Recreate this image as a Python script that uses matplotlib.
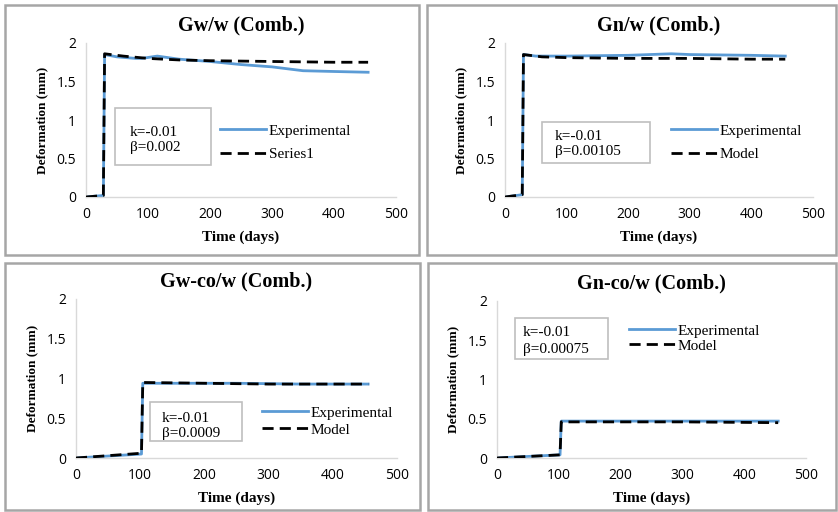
import matplotlib.pyplot as plt
from matplotlib.patches import Rectangle

W, H = 838, 512

# ---- data ----
gww_exp_t = [0, 28, 30, 50, 80, 90, 115, 150, 200, 250, 300, 350, 400, 455]
gww_exp_d = [0, 0.02, 1.85, 1.82, 1.80, 1.80, 1.83, 1.79, 1.76, 1.72, 1.69, 1.64, 1.63, 1.62]
gww_mod_t = [0, 28, 30, 60, 100, 150, 200, 300, 400, 455]
gww_mod_d = [0, 0.02, 1.86, 1.83, 1.80, 1.78, 1.77, 1.76, 1.75, 1.75]

gnw_exp_t = [0, 28, 30, 50, 100, 200, 270, 300, 400, 455]
gnw_exp_d = [0, 0.03, 1.85, 1.83, 1.83, 1.84, 1.86, 1.85, 1.84, 1.83]
gnw_mod_t = [0, 28, 30, 60, 100, 200, 300, 400, 455]
gnw_mod_d = [0, 0.03, 1.85, 1.82, 1.81, 1.80, 1.80, 1.79, 1.79]

gwco_exp_t = [0, 102, 104, 200, 250, 350, 455]
gwco_exp_d = [0, 0.05, 0.94, 0.94, 0.94, 0.93, 0.93]
gwco_mod_t = [0, 102, 104, 200, 300, 455]
gwco_mod_d = [0, 0.06, 0.95, 0.94, 0.93, 0.93]

gnco_exp_t = [0, 102, 104, 200, 300, 455]
gnco_exp_d = [0, 0.04, 0.47, 0.47, 0.47, 0.47]
gnco_mod_t = [0, 102, 104, 200, 300, 455]
gnco_mod_d = [0, 0.04, 0.46, 0.46, 0.46, 0.45]

titles = ["Gw/w (Comb.)", "Gn/w (Comb.)", "Gw-co/w (Comb.)", "Gn-co/w (Comb.)"]
k_text = ["k=-0.01", "k=-0.01", "k=-0.01", "k=-0.01"]
beta_text = ["\u03b2=0.002", "\u03b2=0.00105", "\u03b2=0.0009", "\u03b2=0.00075"]
model_names = ["Series1", "Model", "Model", "Model"]
x_ticks = [0, 100, 200, 300, 400, 500]
y_ticks = [0, 0.5, 1, 1.5, 2]
y_tick_labels = ["0", "0.5", "1", "1.5", "2"]

series = [
    (gww_exp_t, gww_exp_d, gww_mod_t, gww_mod_d),
    (gnw_exp_t, gnw_exp_d, gnw_mod_t, gnw_mod_d),
    (gwco_exp_t, gwco_exp_d, gwco_mod_t, gwco_mod_d),
    (gnco_exp_t, gnco_exp_d, gnco_mod_t, gnco_mod_d),
]

# pixel layout: panel frame, axes box (x0, x1, ytop, ybottom), note box, legend anchor, row gap
frames = [(5, 5, 419, 255), (427, 5, 836, 255), (5, 263, 420, 510), (428, 263, 836, 510)]
axes_px = [(86, 396, 43, 197), (505, 813, 43, 197), (76, 397, 299, 458), (497, 806, 301, 458)]
note_px = [(115, 108, 211, 165), (542, 122, 650, 163), (150, 402, 242, 441), (515, 318, 608, 359)]
note_txt_px = [(130, 133, 148), (555, 137, 152), (162, 418, 433), (523, 332, 349)]
leg_px = [(220, 124), (671, 124), (262, 406), (629, 324)]
leg_space = [0.62, 0.62, 0.22, 0.08]

blue = "#5b9bd5"
serif = "Liberation Serif"
sans = "Open Sans"

fig = plt.figure(figsize=(W / 100, H / 100), dpi=100)


def fx(px):
    return px / W


def fy(py):
    return 1 - py / H


for i in range(4):
    # grey frame around each panel
    x0, y0, x1, y1 = frames[i]
    fig.add_artist(Rectangle((fx(x0), fy(y1)), fx(x1 - x0), (y1 - y0) / H,
                             transform=fig.transFigure, fill=False,
                             edgecolor="#a6a6a6", linewidth=1.8))

    ax0, ax1, at, ab = axes_px[i]
    ax = fig.add_axes([fx(ax0), fy(ab), fx(ax1 - ax0), (ab - at) / H])
    et, ed, mt, md = series[i]
    ax.plot(et, ed, color=blue, lw=2, label="Experimental", zorder=2)
    ax.plot(mt, md, color="black", lw=2, ls=(0, (4, 2.2)), label=model_names[i], zorder=3)

    ax.set_xlim(0, 500)
    ax.set_ylim(0, 2)
    ax.set_xticks(x_ticks)
    ax.set_yticks(y_ticks)
    ax.set_yticklabels(y_tick_labels)
    ax.tick_params(length=0, labelsize=10, pad=7)
    for lab in ax.get_xticklabels() + ax.get_yticklabels():
        lab.set_fontfamily(sans)
    for s in ["top", "right"]:
        ax.spines[s].set_visible(False)
    for s in ["left", "bottom"]:
        ax.spines[s].set_color("#d9d9d9")
        ax.spines[s].set_linewidth(1)

    ax.set_title(titles[i], fontfamily=serif, fontweight="bold", fontsize=14.5, pad=9)
    ax.set_xlabel("Time (days)", fontfamily=serif, fontweight="bold", fontsize=11, labelpad=6)
    ax.set_ylabel("Deformation (mm)", fontfamily=serif, fontweight="bold", fontsize=9.5, labelpad=6)

    # parameter box
    bx0, by0, bx1, by1 = note_px[i]
    fig.add_artist(Rectangle((fx(bx0), fy(by1)), fx(bx1 - bx0), (by1 - by0) / H,
                             transform=fig.transFigure, facecolor="white",
                             edgecolor="#bfbfbf", linewidth=1.2, zorder=5))
    tx, ty1, ty2 = note_txt_px[i]
    fig.text(fx(tx), fy(ty1), k_text[i], fontfamily=serif, fontsize=11, va="center", zorder=6)
    fig.text(fx(tx), fy(ty2), beta_text[i], fontfamily=serif, fontsize=11, va="center", zorder=6)

    lx, ly = leg_px[i]
    ax.legend(loc="upper left", bbox_to_anchor=(fx(lx), fy(ly)), bbox_transform=fig.transFigure,
              frameon=False, borderpad=0, borderaxespad=0, handlelength=3.0,
              handletextpad=0.2, labelspacing=leg_space[i],
              prop={"family": serif, "size": 11})

fig.savefig("out.png", dpi=100)
